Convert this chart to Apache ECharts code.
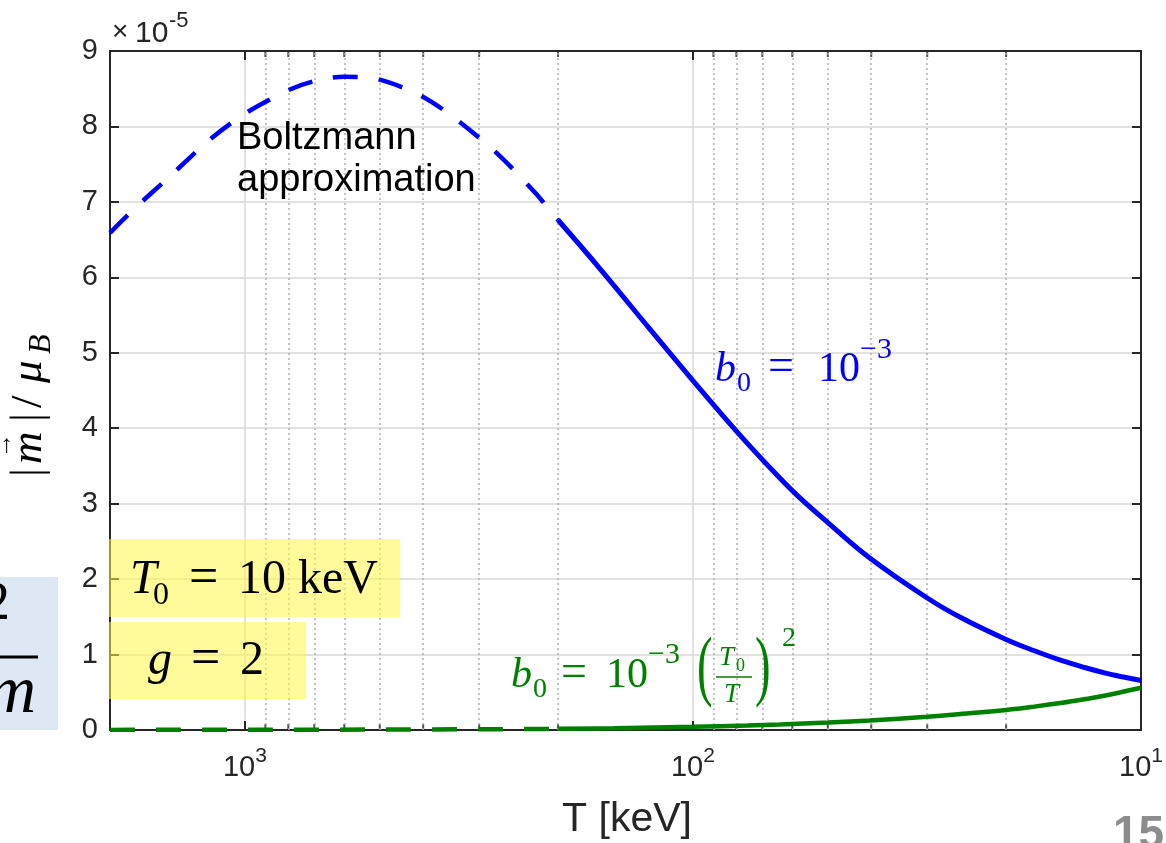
<!DOCTYPE html>
<html>
<head>
<meta charset="utf-8">
<script src="https://cdn.jsdelivr.net/npm/echarts@6/dist/echarts.min.js"></script>
<style>html,body{margin:0;padding:0;background:#fff}#c{width:1166px;height:843px}</style>
</head>
<body>
<div id="c"></div>
<script>
// ---------- data (values in units of 1e-5) ----------
const T_MIN = 10;
const T_MAX = 2000;
const xMajorT = [10, 100, 1000];
const xMajorExp = ['1', '2', '3'];
const xMinorT = [20, 30, 40, 50, 60, 70, 80, 90, 200, 300, 400, 500, 600, 700, 800, 900];
const yTickLabels = ['0', '1', '2', '3', '4', '5', '6', '7', '8', '9'];

// b0 = 1e-3, Boltzmann approximation (dashed)
const blueDashT = [2000, 1750, 1500, 1200, 1000, 800, 700, 600, 500, 400, 330, 270, 225, 200];
const blueDashV = [6.59, 6.93, 7.29, 7.82, 8.17, 8.48, 8.60, 8.66, 8.62, 8.39, 8.05, 7.61, 7.12, 6.76];
// b0 = 1e-3 (solid)
const blueT = [200, 161, 125, 100, 87, 75.6, 64, 57.8, 50, 40.3, 30, 25, 20, 17.3, 15, 13.3, 12, 11.1, 10];
const blueV = [6.76, 6.11, 5.32, 4.63, 4.21, 3.80, 3.34, 3.08, 2.75, 2.28, 1.75, 1.477, 1.20, 1.05, 0.918, 0.825, 0.754, 0.71, 0.656];
// b0 = 1e-3 (T0/T)^2, Boltzmann approximation (dashed)
const greenDashT = [2000, 1000, 500, 300, 200];
const greenDashV = [0.0015, 0.003, 0.006, 0.010, 0.015];
// b0 = 1e-3 (T0/T)^2 (solid)
const greenT = [200, 150, 100, 75.6, 64, 50, 40.3, 30, 25, 20, 17.3, 15, 13.3, 12, 11.1, 10];
const greenV = [0.015, 0.024, 0.042, 0.060, 0.074, 0.099, 0.127, 0.176, 0.214, 0.266, 0.31, 0.36, 0.41, 0.457, 0.50, 0.56];

// ---------- styling ----------
const INK = '#262626';
const SANS = '"Liberation Sans", Arial, Helvetica, sans-serif';
const SERIF = '"Liberation Serif", "DejaVu Serif", serif';
const BLUE = '#0000ff';
const GREEN = '#008000';

function pairs(ts, vs) { return ts.map((t, i) => [t, vs[i]]); }

const chart = echarts.init(document.getElementById('c'), null, { renderer: 'canvas', width: 1166, height: 843 });

function xAxisCfg(pos, labels) {
  return {
    type: 'log', logBase: 10, min: T_MIN, max: T_MAX, inverse: true, position: pos,
    axisLine: { show: true, onZero: false, lineStyle: { color: INK, width: 2 } },
    axisTick: { show: true, inside: true, length: 9, lineStyle: { color: INK, width: 2 } },
    axisLabel: labels ? {
      show: true, margin: 16, showMinLabel: true, showMaxLabel: true, color: INK,
      formatter: function (v) {
        const i = xMajorT.findIndex(t => Math.abs(v - t) < t * 1e-6);
        return i < 0 ? '' : '{b|10}{s|' + xMajorExp[i] + '}';
      },
      rich: {
        b: { fontSize: 29, fontFamily: SANS, color: INK, lineHeight: 36, verticalAlign: 'bottom' },
        s: { fontSize: 21, fontFamily: SANS, color: INK, lineHeight: 20, verticalAlign: 'top' }
      }
    } : { show: false },
    splitLine: labels ? { show: true, lineStyle: { color: '#d9d9d9', width: 1.5 } } : { show: false },
    minorTick: { show: false }, minorSplitLine: { show: false }
  };
}
function yAxisCfg(pos, labels) {
  return {
    type: 'value', min: 0, max: 9, interval: 1, position: pos,
    axisLine: { show: true, onZero: false, lineStyle: { color: INK, width: 2 } },
    axisTick: { show: true, inside: true, length: 9, lineStyle: { color: INK, width: 2 } },
    axisLabel: labels ? {
      show: true, margin: 12, color: INK, fontSize: 29, fontFamily: SANS,
      formatter: v => yTickLabels[Math.round(v)]
    } : { show: false },
    splitLine: labels ? { show: true, lineStyle: { color: '#d9d9d9', width: 1.5 } } : { show: false }
  };
}

// ---------- annotations ----------
const g = [];
function tx(x, base, text, size, o) {
  o = o || {};
  const fam = o.family || SERIF;
  const el = {
    type: 'text', x: x, y: base - 0.34 * size, z: 60, silent: true,
    style: {
      text: text, fill: o.fill || '#000',
      font: (o.italic ? 'italic ' : '') + (o.bold ? 'bold ' : '') + size + 'px ' + fam,
      textAlign: o.align || 'left', textVerticalAlign: 'middle'
    }
  };
  if (o.scaleX) el.scaleX = o.scaleX;
  return el;
}
function ln(x1, y1, x2, y2, color, w) {
  return { type: 'line', z: 60, silent: true, shape: { x1, y1, x2, y2 }, style: { stroke: color, lineWidth: w } };
}

// left clipped slide box
g.push({ type: 'rect', z: 1, silent: true, shape: { x: 0, y: 577, width: 58, height: 153 }, style: { fill: '#dde8f4' } });
g.push(tx(10, 623, '2', 54, { align: 'right' }));
g.push(ln(0, 657, 38, 657, '#000', 3));
g.push(tx(36, 717, 'm', 68, { italic: true, align: 'right' }));

// exponent
g.push(tx(112, 42, '\u00d7', 28, { family: SANS, fill: INK }));
g.push(tx(135, 44, '10', 30, { family: SANS, fill: INK }));
g.push(tx(169, 28, '-5', 22, { family: SANS, fill: INK }));

// Boltzmann approximation
g.push(tx(237, 151, 'Boltzmann', 38, { family: SANS }));
g.push(tx(237, 193, 'approximation', 38, { family: SANS }));

// blue label  b0 = 10^-3
g.push(tx(715, 384, 'b', 42, { italic: true, fill: BLUE }));
g.push(tx(737, 393, '0', 28, { fill: BLUE }));
g.push(tx(768, 384, '=', 46, { fill: BLUE }));
g.push(tx(818, 384, '10', 42, { fill: BLUE }));
g.push(tx(860, 360, '\u22123', 30, { fill: BLUE }));

// green label  b0 = 10^-3 (T0/T)^2
g.push(tx(511, 690, 'b', 42, { italic: true, fill: GREEN }));
g.push(tx(533, 699, '0', 28, { fill: GREEN }));
g.push(tx(561, 690, '=', 46, { fill: GREEN }));
g.push(tx(606, 690, '10', 42, { fill: GREEN }));
g.push(tx(648, 665, '\u22123', 30, { fill: GREEN }));
g.push(tx(697, 697, '(', 78, { fill: GREEN, scaleX: 0.6 }));
g.push(tx(719, 667, 'T', 27, { italic: true, fill: GREEN }));
g.push(tx(736, 672, '0', 18, { fill: GREEN }));
g.push(ln(716, 677, 752, 677, GREEN, 1.5));
g.push(tx(724, 704, 'T', 27, { italic: true, fill: GREEN }));
g.push(tx(755, 697, ')', 78, { fill: GREEN, scaleX: 0.6 }));
g.push(tx(782, 648, '2', 28, { fill: GREEN }));

// yellow boxes
g.push({ type: 'rect', z: 55, silent: true, shape: { x: 109, y: 539, width: 291, height: 78 }, style: { fill: 'rgba(255,248,70,0.55)' } });
g.push({ type: 'rect', z: 55, silent: true, shape: { x: 109, y: 622, width: 197, height: 77 }, style: { fill: 'rgba(255,248,70,0.55)' } });
g.push(tx(130, 597, 'T', 48, { italic: true }));
g.push(tx(153, 606, '0', 32));
g.push(tx(189, 597, '=', 52));
g.push(tx(238, 597, '10 keV', 48));
g.push(tx(148, 678, 'g', 48, { italic: true }));
g.push(tx(191, 678, '=', 52));
g.push(tx(240, 678, '2', 48));

// axis titles
g.push(tx(627, 834, 'T [keV]', 41, { family: SANS, fill: INK, align: 'center' }));
g.push({
  type: 'group', x: 0, y: 400, rotation: Math.PI / 2, silent: true, z: 60,
  children: [
    tx(-77, 44, '|', 45),
    tx(-64, 44, 'm', 45, { italic: true }),
    tx(-58, 13, '\u2192', 25),
    tx(-22, 44, '|', 45),
    tx(-8, 44, '/', 45),
    tx(17, 44, '\u03bc', 45, { italic: true }),
    tx(46, 52, 'B', 32, { italic: true })
  ]
});

// page number
g.push(tx(1113, 851, '15', 46, { family: SANS, bold: true, fill: '#8c8c8c' }));

const option = {
  animation: false,
  backgroundColor: '#ffffff',
  grid: { left: 110, right: 25, top: 51, bottom: 113, containLabel: false, outerBoundsMode: 'none' },
  xAxis: [xAxisCfg('bottom', true), xAxisCfg('top', false)],
  yAxis: [yAxisCfg('left', true), yAxisCfg('right', false)],
  series: [
    {
      type: 'scatter', xAxisIndex: 0, yAxisIndex: 0, z: 1, silent: true, clip: false,
      symbol: 'rect', symbolSize: [2, 6], symbolOffset: [0, -3],
      itemStyle: { color: INK },
      data: xMinorT.map(t => [t, 0]),
      markLine: {
        silent: true, symbol: 'none', label: { show: false },
        lineStyle: { color: '#b0b0b0', width: 1.5, type: [2, 3] },
        data: xMinorT.map(t => ({ xAxis: t }))
      }
    },
    {
      type: 'scatter', xAxisIndex: 0, yAxisIndex: 0, z: 1, silent: true, clip: false,
      symbol: 'rect', symbolSize: [2, 6], symbolOffset: [0, 3],
      itemStyle: { color: INK },
      data: xMinorT.map(t => [t, 9])
    },
    {
      name: 'blue dashed', type: 'line', z: 5, silent: true, showSymbol: false, symbol: 'none', smooth: 0.3,
      lineStyle: { color: BLUE, width: 4.5, type: [25, 21] }, data: pairs(blueDashT, blueDashV)
    },
    {
      name: 'blue', type: 'line', z: 5, silent: true, showSymbol: false, symbol: 'none', smooth: 0.4,
      lineStyle: { color: BLUE, width: 5 }, data: pairs(blueT, blueV)
    },
    {
      name: 'green dashed', type: 'line', z: 5, silent: true, showSymbol: false, symbol: 'none', smooth: 0.3,
      lineStyle: { color: GREEN, width: 4.5, type: [25, 21] }, data: pairs(greenDashT, greenDashV)
    },
    {
      name: 'green', type: 'line', z: 5, silent: true, showSymbol: false, symbol: 'none', smooth: 0.4,
      lineStyle: { color: GREEN, width: 4.5 }, data: pairs(greenT, greenV)
    }
  ],
  graphic: { elements: g }
};
chart.setOption(option);
</script>
</body>
</html>
